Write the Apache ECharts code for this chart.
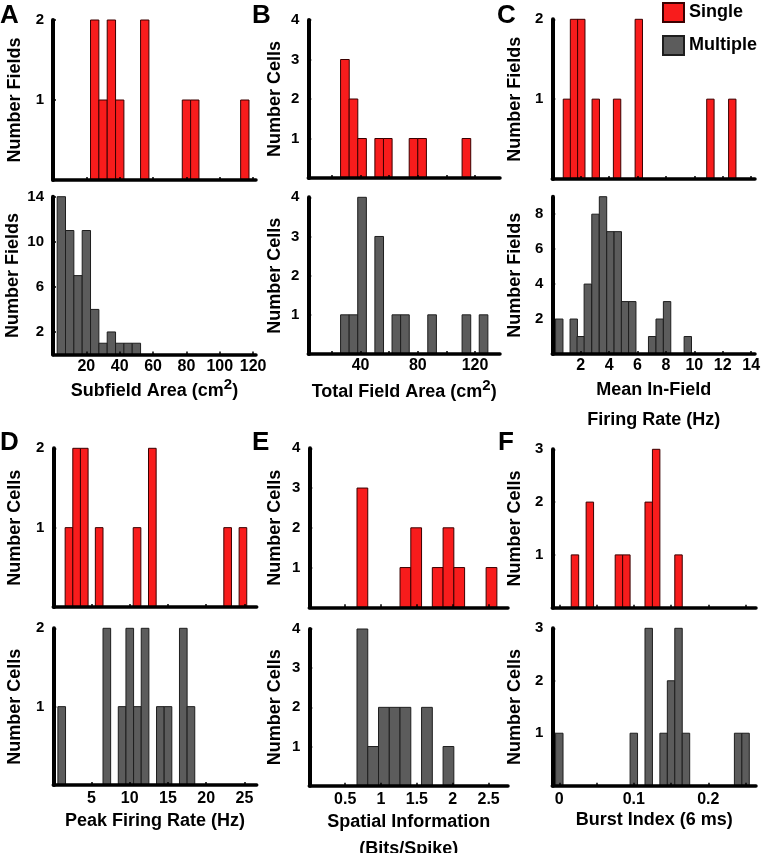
<!DOCTYPE html>
<html><head><meta charset="utf-8">
<script src="https://cdn.jsdelivr.net/npm/echarts@6/dist/echarts.min.js"></script>
<style>html,body{margin:0;padding:0;background:#fff}#c{width:766px;height:853px}</style>
</head><body><div id="c"></div>
<script>
// ---------------- DATA ----------------
// A: Subfield Area (cm2)
const aSingleCenters = [25, 30, 35, 40, 55, 80, 85, 115];
const aSingleCounts  = [2, 1, 2, 1, 2, 1, 1, 1];
const aMultiCenters  = [5, 10, 15, 20, 25, 30, 35, 40, 45, 50];
const aMultiCounts   = [14, 11, 7, 11, 4, 1, 2, 1, 1, 1];
const aBinWidth = 5;
const aXTicks = [20, 40, 60, 80, 100, 120];
const aXLabels = [20, 40, 60, 80, 100, 120];
const aSingleYTicks = [1, 2];
const aMultiYTicks = [2, 6, 10, 14];

// B: Total Field Area (cm2)
const bSingleCenters = [29, 35, 41, 53, 59, 77, 83, 114];
const bSingleCounts  = [3, 2, 1, 1, 1, 1, 1, 1];
const bMultiCenters  = [29, 35, 41, 53, 65, 71, 90, 114, 126];
const bMultiCounts   = [1, 1, 4, 3, 1, 1, 1, 1, 1];
const bBinWidth = 6.05;
const bXTicks = [20, 40, 60, 80, 100, 120];
const bXLabels = [40, 80, 120];
const bYTicks = [1, 2, 3, 4];

// C: Mean In-Field Firing Rate (Hz)
const cSingleCenters = [1.03, 1.53, 2.04, 3.06, 4.56, 6.09, 11.13, 12.67];
const cSingleCounts  = [1, 2, 2, 1, 1, 2, 1, 1];
const cMultiCenters  = [0.49, 1.51, 2.0, 2.5, 3.04, 3.57, 4.09, 4.61, 5.12, 5.63, 7.03, 7.56, 8.08, 9.54];
const cMultiCounts   = [2, 2, 1, 4, 8, 9, 7, 7, 3, 3, 1, 2, 3, 1];
const cBinWidth = 0.52;
const cXTicks = [2, 4, 6, 8, 10, 12, 14];
const cXLabels = [2, 4, 6, 8, 10, 12, 14];
const cSingleYTicks = [1, 2];
const cMultiYTicks = [2, 4, 6, 8];

// D: Peak Firing Rate (Hz)
const dSingleCenters = [2.05, 3.05, 4.05, 6.0, 10.95, 12.95, 22.8, 24.8];
const dSingleCounts  = [1, 2, 2, 1, 1, 2, 1, 1];
const dMultiCenters  = [1.1, 7, 9, 10, 11, 12, 14, 15, 17, 18];
const dMultiCounts   = [1, 2, 1, 2, 1, 2, 1, 1, 2, 1];
const dBinWidth = 1.0;
const dXTicks = [5, 10, 15, 20, 25];
const dXLabels = [5, 10, 15, 20, 25];
const dYTicks = [1, 2];

// E: Spatial Information (Bits/Spike)
const eSingleCenters = [0.74, 1.34, 1.49, 1.79, 1.94, 2.09, 2.54];
const eSingleCounts  = [3, 1, 2, 1, 2, 1, 1];
const eMultiCenters  = [0.74, 0.89, 1.04, 1.19, 1.34, 1.64, 1.94];
const eMultiCounts   = [4, 1, 2, 2, 2, 2, 1];
const eBinWidth = 0.15;
const eXTicks = [0.5, 1, 1.5, 2, 2.5];
const eXLabels = [0.5, 1, 1.5, 2, 2.5];
const eYTicks = [1, 2, 3, 4];

// F: Burst Index (6 ms)
const fSingleCenters = [0.021, 0.041, 0.08, 0.09, 0.12, 0.13, 0.16];
const fSingleCounts  = [1, 2, 1, 1, 2, 3, 1];
const fMultiCenters  = [0, 0.10, 0.12, 0.14, 0.15, 0.16, 0.17, 0.24, 0.25];
const fMultiCounts   = [1, 1, 3, 1, 2, 3, 1, 1, 1];
const fBinWidth = 0.01;
const fXTicks = [0, 0.05, 0.1, 0.15, 0.2, 0.25];
const fXLabels = [0, 0.1, 0.2];
const fYTicks = [1, 2, 3];

const panelLetters = ['A', 'B', 'C', 'D', 'E', 'F'];
const legendNames = ['Single', 'Multiple'];

// ---------------- LAYOUT / STYLE ----------------
const FONT = '"Liberation Sans", Arial, Helvetica, sans-serif';
const RED = '#f81c1c', RED_EDGE = '#3a0000';
const GRAY = '#5c5c5c', GRAY_EDGE = '#1e1e1e';

const panels = [
  // A top / bottom
  {g:[53,256,20,180], xr:[0,121.7], yMax:2, c:aSingleCenters, n:aSingleCounts, bw:aBinWidth, kind:'Single', xt:aXTicks, xl:null, yt:aSingleYTicks, yName:'Number Fields', yGap:28},
  {g:[53,256,196.7,354.5], xr:[0,121.7], yMax:14, c:aMultiCenters, n:aMultiCounts, bw:aBinWidth, kind:'Multiple', xt:aXTicks, xl:aXLabels, yt:aMultiYTicks, yName:'Number Fields', yGap:28,
    xName:'Subfield Area (cm{sup|2})', xGap:23, xLH:28, lm:4},
  // B
  {g:[308.3,500,20,178], xr:[3.4,137.5], yMax:4, c:bSingleCenters, n:bSingleCounts, bw:bBinWidth, kind:'Single', xt:bXTicks, xl:null, yt:bYTicks, yName:'Number Cells', yGap:23},
  {g:[308.3,500,197.3,354], xr:[3.4,137.5], yMax:4, c:bMultiCenters, n:bMultiCounts, bw:bBinWidth, kind:'Multiple', xt:bXTicks, xl:bXLabels, yt:bYTicks, yName:'Number Cells', yGap:23,
    xName:'Total Field Area (cm{sup|2})', xGap:24, xLH:28, lm:4},
  // C
  {g:[552.3,755,19.3,179], xr:[0,14.27], yMax:2, c:cSingleCenters, n:cSingleCounts, bw:cBinWidth, kind:'Single', xt:cXTicks, xl:null, yt:cSingleYTicks, yName:'Number Fields', yGap:27},
  {g:[552.3,755,196.7,354], xr:[0,14.27], yMax:9, c:cMultiCenters, n:cMultiCounts, bw:cBinWidth, kind:'Multiple', xt:cXTicks, xl:cXLabels, yt:cMultiYTicks, yName:'Number Fields', yGap:27,
    xName:'Mean In-Field\nFiring Rate (Hz)', xGap:21, xLH:30, lm:4},
  // D
  {g:[53.3,256.7,448.3,607], xr:[0,26.6], yMax:2, c:dSingleCenters, n:dSingleCounts, bw:dBinWidth, kind:'Single', xt:dXTicks, xl:null, yt:dYTicks, yName:'Number Cells', yGap:28},
  {g:[53.3,256.7,628.3,785], xr:[0,26.6], yMax:2, c:dMultiCenters, n:dMultiCounts, bw:dBinWidth, kind:'Multiple', xt:dXTicks, xl:dXLabels, yt:dYTicks, yName:'Number Cells', yGap:28,
    xName:'Peak Firing Rate (Hz)', xGap:26, xLH:20, lm:6},
  // E
  {g:[309.3,508,448.3,607.3], xr:[0,2.77], yMax:4, c:eSingleCenters, n:eSingleCounts, bw:eBinWidth, kind:'Single', xt:eXTicks, xl:null, yt:eYTicks, yName:'Number Cells', yGap:24},
  {g:[309.3,508,629,785.7], xr:[0,2.77], yMax:4, c:eMultiCenters, n:eMultiCounts, bw:eBinWidth, kind:'Multiple', xt:eXTicks, xl:eXLabels, yt:eYTicks, yName:'Number Cells', yGap:24,
    xName:'Spatial Information\n(Bits/Spike)', xGap:22, xLH:27, lm:6},
  // F
  {g:[552.3,756,449.3,607.7], xr:[-0.0094,0.264], yMax:3, c:fSingleCenters, n:fSingleCounts, bw:fBinWidth, kind:'Single', xt:fXTicks, xl:null, yt:fYTicks, yName:'Number Cells', yGap:27},
  {g:[552.3,756,628.3,785.7], xr:[-0.0094,0.264], yMax:3, c:fMultiCenters, n:fMultiCounts, bw:fBinWidth, kind:'Multiple', xt:fXTicks, xl:fXLabels, yt:fYTicks, yName:'Number Cells', yGap:27,
    xName:'Burst Index (6 ms)', xGap:24, xLH:20, lm:6},
];

const grids = [], xAxes = [], yAxes = [], series = [];
panels.forEach((p, i) => {
  grids.push({left:p.g[0], top:p.g[2], width:p.g[1]-p.g[0], height:p.g[3]-p.g[2], containLabel:false, outerBoundsMode:'none'});
  const txt = {color:'#000', fontFamily:FONT, fontWeight:'bold'};
  xAxes.push({
    type:'value', gridIndex:i, min:p.xr[0], max:p.xr[1], z:5,
    axisLine:{show:true, onZero:false, lineStyle:{color:'#000', width:3.5}},
    axisTick:{show:true, inside:true, length:3, lineStyle:{color:'#000', width:1.5}, customValues:p.xt},
    axisLabel:{show:!!p.xl, customValues:p.xl || [], margin:p.lm || 4, fontSize:16, ...txt},
    splitLine:{show:false},
    name:p.xName || '', nameLocation:'middle', nameGap:p.xGap || 20,
    nameTextStyle:{fontSize:18, lineHeight:p.xLH || 20, ...txt,
      rich:{sup:{fontSize:15, lineHeight:14, verticalAlign:'top', ...txt}}}
  });
  yAxes.push({
    type:'value', gridIndex:i, min:0, max:p.yMax, z:5,
    axisLine:{show:true, onZero:false, lineStyle:{color:'#000', width:4}},
    axisTick:{show:true, inside:true, length:3, lineStyle:{color:'#000', width:1.5}, customValues:p.yt},
    axisLabel:{show:true, customValues:p.yt, margin:9, fontSize:15, ...txt},
    splitLine:{show:false},
    name:p.yName, nameLocation:'middle', nameGap:p.yGap,
    nameTextStyle:{fontSize:18, lineHeight:20, ...txt}
  });
  const fill = p.kind === 'Single' ? RED : GRAY;
  const edge = p.kind === 'Single' ? RED_EDGE : GRAY_EDGE;
  const bw = p.bw;
  series.push({
    type:'custom', name:p.kind, coordinateSystem:'cartesian2d', xAxisIndex:i, yAxisIndex:i, z:2,
    itemStyle:{color:fill, borderColor:edge, borderWidth:1},
    encode:{x:0, y:1},
    data:p.c.map((v, k) => [v, p.n[k]]),
    renderItem:(params, api) => {
      const c = api.value(0), n = api.value(1);
      const p0 = api.coord([c - bw/2, n]);
      const p1 = api.coord([c + bw/2, 0]);
      return {type:'rect', shape:{x:p0[0], y:p0[1], width:p1[0]-p0[0], height:p1[1]-p0[1]},
        style:{fill:fill, stroke:edge, lineWidth:1}};
    }
  });
});

const letterPos = [[0,16],[252,16],[497,16],[0,443],[252,443],[498,443]];
const graphics = panelLetters.map((L, i) => ({
  type:'text', left:letterPos[i][0], top:letterPos[i][1]-13,
  style:{text:L, fontSize:26, fontWeight:'bold', fontFamily:FONT, fill:'#000'}
}));

const chart = echarts.init(document.getElementById('c'), null, {renderer:'canvas'});
chart.setOption({
  animation:false,
  backgroundColor:'#fff',
  grid:grids, xAxis:xAxes, yAxis:yAxes, series:series,
  legend:{data:legendNames, orient:'vertical', left:662, top:2, padding:0, icon:'rect', itemWidth:21, itemHeight:19, itemGap:12,
    textStyle:{fontSize:18, fontWeight:'bold', fontFamily:FONT, color:'#000'}},
  graphic:graphics
});
</script></body></html>
